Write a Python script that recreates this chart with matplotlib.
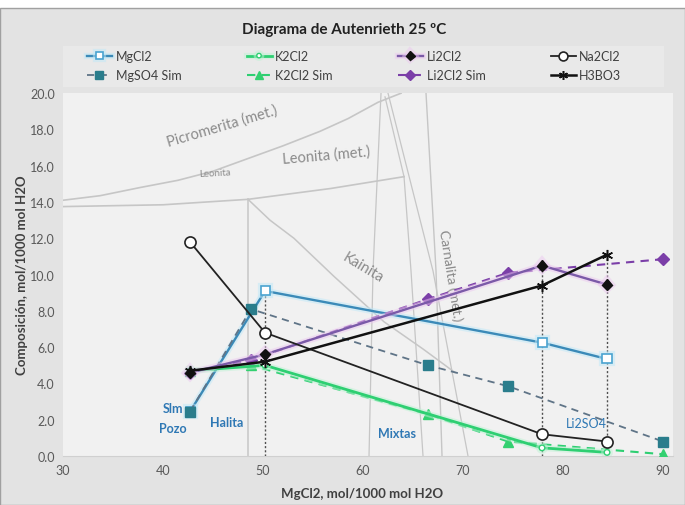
import matplotlib
matplotlib.use('Agg')
import matplotlib.pyplot as plt
import matplotlib.patheffects as pe
from matplotlib.patches import Rectangle
import numpy as np

plt.rcParams['font.family'] = ['Lato', 'DejaVu Sans']

# Measured brine compositions (mol/1000 mol H2O)
x_obs = [42.7, 50.2, 77.9, 84.4]
mgcl2 = [2.45, 9.1, 6.25, 5.35]
k2cl2 = [4.7, 5.0, 0.45, 0.2]
li2cl2 = [4.6, 5.6, 10.5, 9.45]
na2cl2 = [11.8, 6.8, 1.2, 0.8]
h3bo3 = [4.7, 5.2, 9.4, 11.1]

# Simulated evaporation path
x_sim = [42.7, 48.8, 66.5, 74.5, 90.0]
mgso4_sim = [2.45, 8.1, 5.0, 3.85, 0.8]
k2cl2_sim = [4.7, 5.0, 2.3, 0.8, 0.1]
li2cl2_sim = [4.6, 5.3, 8.65, 10.1, 10.85]

# Phase field boundaries of the Autenrieth diagram at 25 C
picro_x = [30, 33.7, 37.7, 41.5, 45.0, 48.5, 52.0, 55.7, 58.5, 61.5, 63.8]
picro_y = [14.1, 14.35, 14.8, 15.2, 15.7, 16.4, 17.1, 17.9, 18.6, 19.5, 20.0]
leon_x = [30, 40, 48.5, 56.8, 64.1]
leon_y = [13.75, 13.85, 14.15, 14.75, 15.4]
halita_x = [48.5, 48.5]
halita_y = [14.15, 0.0]
kain_x = [48.5, 50.7, 53.1, 57.1, 62.1, 66.0, 69.2]
kain_y = [14.15, 13.0, 12.0, 9.9, 7.4, 5.9, 4.6]
b1_x = [61.8, 61.0, 60.6]
b1_y = [20.0, 10.2, 0.0]
b2_x = [62.2, 64.1]
b2_y = [19.8, 15.4]
b3_x = [64.1, 64.8, 66.0]
b3_y = [15.4, 10.2, 0.0]
b4_x = [62.5, 67.0, 70.5]
b4_y = [20.0, 10.2, 0.0]
carn_x = [66.3, 67.3, 67.9]
carn_y = [20.0, 10.2, 0.0]

fig = plt.figure(figsize=(6.85, 5.06), dpi=100)
fig.patch.set_facecolor('white')
fig.patches.append(Rectangle((0, 0), 1, 0.982, transform=fig.transFigure,
                             facecolor='#e3e3e3', edgecolor='#a0a0a0', linewidth=1.0, zorder=-10))
fig.patches.append(Rectangle((0.092, 0.826), 0.878, 0.082, transform=fig.transFigure,
                             facecolor='#e9e9e9', edgecolor='none', zorder=-9))

ax = fig.add_axes([0.092, 0.0968, 0.8905, 0.717])
ax.set_facecolor('#f1f1f1')

grey = '#c6c6c6'
for bx, by, lw in [(picro_x, picro_y, 1.2), (leon_x, leon_y, 1.2), (halita_x, halita_y, 1.1),
                   (kain_x, kain_y, 1.1), (b1_x, b1_y, 0.9), (b2_x, b2_y, 0.9),
                   (b3_x, b3_y, 0.9), (b4_x, b4_y, 0.9), (carn_x, carn_y, 1.0)]:
    ax.plot(bx, by, color=grey, lw=lw, zorder=1)

txt_grey = '#8a8a8a'
ax.text(45.9, 18.2, 'Picromerita (met.)', rotation=16.5, color=txt_grey, fontsize=10.5,
        ha='center', va='center', zorder=2)
ax.text(56.3, 16.6, 'Leonita (met.)', rotation=5, color=txt_grey, fontsize=10.5,
        ha='center', va='center', zorder=2)
ax.text(45.2, 15.62, 'Leonita', rotation=3, color=txt_grey, fontsize=7,
        ha='center', va='center', zorder=2)
ax.text(60.0, 10.4, 'Kainita', rotation=-31, color=txt_grey, fontsize=10.5,
        ha='center', va='center', zorder=2)
ax.text(68.7, 10.0, 'Carnalita (met.)', rotation=-81, color=txt_grey, fontsize=10,
        ha='center', va='center', zorder=2)

# drop lines from the highest measured value at each sampled brine
all_obs = np.array([mgcl2, k2cl2, li2cl2, na2cl2, h3bo3])
drop_top = all_obs.max(axis=0)
ax.vlines(x_obs[1:], 0, drop_top[1:], colors='#505050', linestyles=(0, (1.5, 1.5)),
          lw=1.0, zorder=3)


def glow(color, width):
    return [pe.Stroke(linewidth=width, foreground=color, alpha=0.5), pe.Normal()]


ln_mgcl2, = ax.plot(x_obs, mgcl2, color='#3b8ab8', lw=1.7, marker='s', ms=6.5,
                    mfc='white', mec='#4aa3d0', mew=1.2, zorder=3.5, label='MgCl2',
                    path_effects=glow('#bfe8f8', 4.5))
ln_k2cl2, = ax.plot(x_obs, k2cl2, color='#2ecf72', lw=2.0, marker='o', ms=4,
                    mfc='white', mec='#2ecf72', mew=1.0, zorder=5, label='K2Cl2',
                    path_effects=glow('#bff2d4', 4.5))
ln_li2cl2, = ax.plot(x_obs, li2cl2, color='#7b5aa8', lw=1.7, marker='D', ms=5.5,
                     mfc='#111111', mec='#111111', zorder=6, label='Li2Cl2',
                     path_effects=glow('#ecc8f0', 4.5))
ln_na2cl2, = ax.plot(x_obs, na2cl2, color='#222222', lw=1.3, marker='o', ms=8,
                     mfc='white', mec='#222222', mew=1.2, zorder=6, label='Na2Cl2')
ln_mgso4s, = ax.plot(x_sim, mgso4_sim, color='#5f7487', lw=1.3, ls=(0, (4, 3)), marker='s',
                     ms=6.5, mfc='#2a7d8c', mec='#2a7d8c', zorder=4, label='MgSO4 Sim')
ln_k2cl2s, = ax.plot(x_sim, k2cl2_sim, color='#2ecf72', lw=1.5, ls=(0, (4, 3)), marker='^',
                     ms=6.5, mfc='#33d070', mec='#33d070', zorder=4, label='K2Cl2 Sim')
ln_li2cl2s, = ax.plot(x_sim, li2cl2_sim, color='#7b3fa8', lw=1.5, ls=(0, (4, 3)), marker='D',
                      ms=6, mfc='#7b3fa8', mec='#7b3fa8', zorder=4, label='Li2Cl2 Sim')
ln_h3bo3, = ax.plot(x_obs, h3bo3, color='#111111', lw=1.8, marker=(6, 2, 0), ms=8,
                    mec='#111111', mew=1.1, zorder=6, label='H3BO3')

blue = '#2f78b4'
ax.text(41.0, 2.65, 'Slm', color=blue, fontsize=9, fontweight='bold', ha='center', va='center')
ax.text(41.0, 1.55, 'Pozo', color=blue, fontsize=9, fontweight='bold', ha='center', va='center')
ax.text(46.4, 1.9, 'Halita', color=blue, fontsize=9, fontweight='bold', ha='center', va='center')
ax.text(63.4, 1.27, 'Mixtas', color=blue, fontsize=9, fontweight='bold', ha='center', va='center')
ax.text(82.3, 1.8, 'Li2SO4', color=blue, fontsize=9, ha='center', va='center')

ax.set_xlim(30, 91)
ax.set_ylim(0, 20)
ax.set_xticks(np.arange(30, 91, 10))
ax.set_yticks(np.arange(0, 20.1, 2))
ax.yaxis.set_major_formatter(matplotlib.ticker.FormatStrFormatter('%.1f'))
ax.tick_params(length=0, labelsize=9, labelcolor='#595959', pad=6)
for s in ['top', 'right', 'left']:
    ax.spines[s].set_visible(False)
ax.spines['bottom'].set_color('#d0d0d0')

ax.set_xlabel('MgCl2, mol/1000 mol H2O', fontsize=9.5, fontweight='bold', color='#404040')
ax.set_ylabel('Composición, mol/1000 mol H2O', fontsize=9.5, fontweight='bold', color='#404040')
ax.xaxis.set_label_coords(0.49, -0.085)
ax.yaxis.set_label_coords(-0.058, 0.5)

fig.text(0.502, 1 - 30 / 506, 'Diagrama de Autenrieth 25 ºC', fontsize=11, fontweight='bold',
         color='#222222', ha='center', va='center')

handles = [ln_mgcl2, ln_mgso4s, ln_k2cl2, ln_k2cl2s, ln_li2cl2, ln_li2cl2s, ln_na2cl2, ln_h3bo3]
fig.legend(handles=handles, labels=[h.get_label() for h in handles], ncol=4,
           loc='upper left', bbox_to_anchor=(87 / 685, 1 - 51 / 506),
           frameon=False, fontsize=9, handlelength=2.0, handletextpad=0.3,
           columnspacing=5.2, markerscale=0.8,
           labelspacing=0.6, borderaxespad=0, borderpad=0)
for t in fig.legends[0].get_texts():
    t.set_color('#404040')

fig.savefig('out.png', dpi=100)
